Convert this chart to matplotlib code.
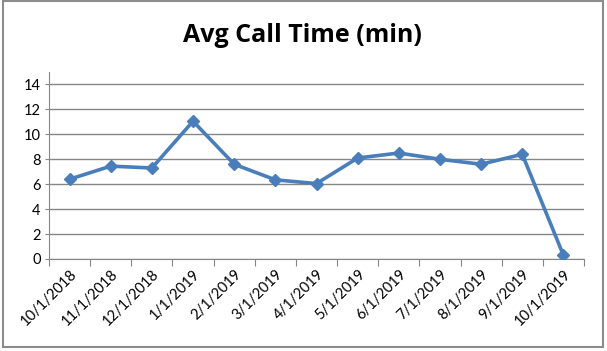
import matplotlib.pyplot as plt
from matplotlib.patches import Rectangle

# data
months = ['10/1/2018', '11/1/2018', '12/1/2018', '1/1/2019', '2/1/2019',
          '3/1/2019', '4/1/2019', '5/1/2019', '6/1/2019', '7/1/2019',
          '8/1/2019', '9/1/2019', '10/1/2019']
avg_call_time = [6.4, 7.45, 7.3, 11.05, 7.6, 6.35, 6.05, 8.1, 8.5, 8.0, 7.6, 8.4, 0.3]

plt.rcParams['font.family'] = ['Lato', 'DejaVu Sans']

W, H = 607, 351
fig = plt.figure(figsize=(W / 100, H / 100), dpi=100)

# chart border
fig.patches.append(Rectangle((3 / W, 1 - 347 / H), 600 / W, 346 / H,
                             transform=fig.transFigure, fill=False,
                             edgecolor='#8c8c8c', linewidth=1.5))

ax = fig.add_axes([49 / W, 1 - 259 / H, 535 / W, 187 / H])

x = list(range(len(months)))
ax.plot(x, avg_call_time, color='#4a7ebb', linewidth=2.6,
        marker='D', markersize=6.5, zorder=3)

ax.set_xlim(-0.5, len(months) - 0.5)
ax.set_ylim(0, 15)
ax.set_yticks(range(0, 15, 2))
ax.yaxis.grid(True, color='#868686', linewidth=1)
ax.set_axisbelow(True)

# ticks between categories, labels at centers
ax.set_xticks([i - 0.5 for i in range(len(months) + 1)])
ax.set_xticklabels([])
ax.set_xticks(x, minor=True)
ax.set_xticklabels(months, minor=True, rotation=45, ha='right',
                   rotation_mode='anchor', fontsize=10.5)
ax.tick_params(axis='x', which='minor', length=0, pad=6)
ax.tick_params(axis='x', which='major', length=5, color='#868686')
ax.tick_params(axis='y', length=3, color='#868686', labelsize=10.5, pad=3)

for s in ['top', 'right']:
    ax.spines[s].set_visible(False)
for s in ['left', 'bottom']:
    ax.spines[s].set_color('#868686')

fig.text(302 / W, 1 - 35 / H, 'Avg Call Time (min)', ha='center', va='center',
         fontsize=18, fontweight='bold', family=['Open Sans', 'DejaVu Sans'])

fig.savefig('out.png', dpi=100)
